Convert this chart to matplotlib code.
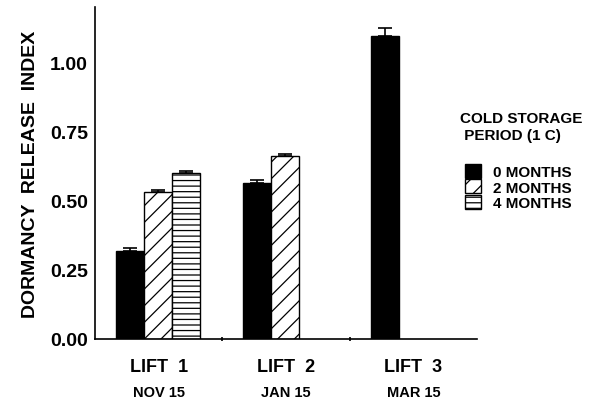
import numpy as np
import matplotlib
matplotlib.use("Agg")
import matplotlib.pyplot as plt
from matplotlib.patches import Patch

plt.rcParams['font.family'] = ['Liberation Sans', 'DejaVu Sans']
plt.rcParams['font.weight'] = 'bold'
plt.rcParams['hatch.linewidth'] = 0.9

lifts = ["LIFT  1", "LIFT  2", "LIFT  3"]
dates = ["NOV 15", "JAN 15", "MAR 15"]
periods = ["0 MONTHS", "2 MONTHS", "4 MONTHS"]
# values per period, per lift (None = not measured)
vals_0 = [0.319, 0.563, 1.096]
vals_2 = [0.530, 0.662, None]
vals_4 = [0.599, None, None]
err_0 = [0.010, 0.010, 0.028]
err_2 = [0.009, 0.008, None]
err_4 = [0.010, None, None]
yticks = [0.00, 0.25, 0.50, 0.75, 1.00]

fig = plt.figure(figsize=(5.99, 4.02), dpi=100)
ax = fig.add_axes([95/599, 1-340/402, (477-95)/599, 332/402])

styles = [dict(color="black", hatch=None),
          dict(color="white", hatch="//"),
          dict(color="white", hatch="---")]
width = 0.22
for k, (vals, errs, st) in enumerate(zip([vals_0, vals_2, vals_4],
                                         [err_0, err_2, err_4], styles)):
    xs = [i + 0.275 + width * k for i, v in enumerate(vals) if v is not None]
    ys = [v for v in vals if v is not None]
    es = [e for e in errs if e is not None]
    ax.bar(xs, ys, width, color=st["color"], edgecolor="black",
           linewidth=1.0, hatch=st["hatch"], zorder=2)
    ax.errorbar(xs, ys, yerr=[np.zeros(len(es)), es], fmt="none",
                ecolor="black", elinewidth=1.2, capsize=5, capthick=1.2, zorder=3)

ax.set_xlim(0, 3)
ax.set_ylim(0, 1.2)
ax.spines['top'].set_visible(False)
ax.spines['right'].set_visible(False)
ax.spines['left'].set_linewidth(1.2)
ax.spines['bottom'].set_linewidth(1.2)

ax.set_yticks(yticks)
ax.set_yticklabels([f"{t:.2f}" for t in yticks], fontsize=14, fontweight="bold")
ax.tick_params(axis='y', length=0, pad=5)

ax.set_xticks([0.5, 1.5, 2.5])
ax.set_xticklabels(lifts, fontsize=13, fontweight="bold")
ax.tick_params(axis='x', which='major', length=0, pad=14)
ax.set_xticks([1, 2], minor=True)
ax.tick_params(axis='x', which='minor', length=3, direction='inout', width=1.2)

for i, d in enumerate(dates):
    ax.text(i + 0.5, -53/276.7, d, ha="center", va="center", fontsize=10.5,
            fontweight="bold", transform=ax.transData, clip_on=False)

ax.set_ylabel("DORMANCY  RELEASE  INDEX", fontsize=14, fontweight="bold", labelpad=8)

fig.text(460/599, 1-112/402, "COLD STORAGE\n PERIOD (1 C)", ha="left", va="top",
         fontsize=11, fontweight="bold", linespacing=1.25)

handles = [Patch(facecolor=st["color"], edgecolor="black", hatch=st["hatch"])
           for st in styles]
fig.legend(handles, periods, loc="upper left",
           bbox_to_anchor=(465/599, 1-165/402), frameon=False,
           prop={'weight': 'bold', 'size': 11},
           borderpad=0, borderaxespad=0, labelspacing=0, handlelength=1.05,
           handleheight=1.05, handletextpad=0.8)

fig.savefig("out.png", dpi=100)
